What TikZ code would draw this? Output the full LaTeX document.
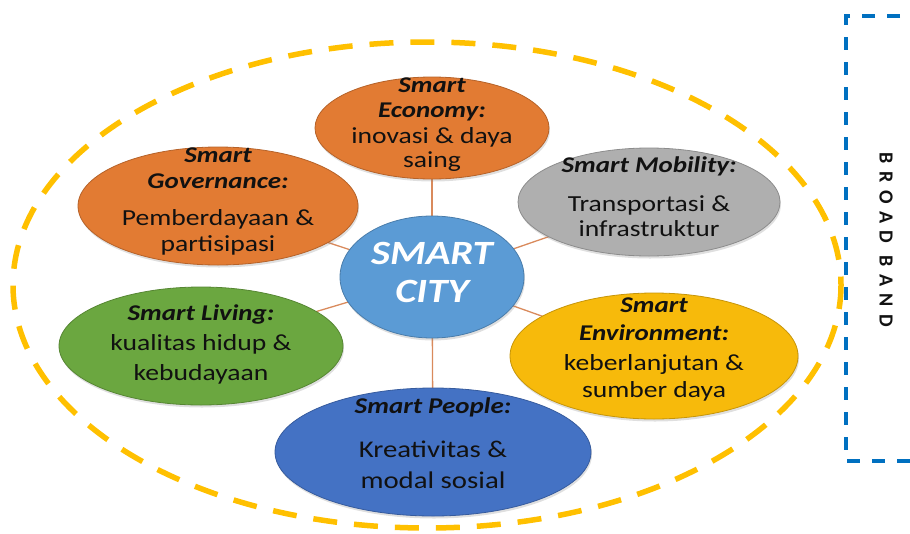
\documentclass[tikz,border=0pt]{standalone}
\usepackage{fontspec}
\setmainfont{Carlito}[FakeStretch=1.2]
\newfontfamily\bbfont{Carlito}[LetterSpace=38]
\usetikzlibrary{shapes.geometric,shadows,backgrounds}
\definecolor{orangeC}{HTML}{E27B33}
\definecolor{greyC}{HTML}{AFAFAF}
\definecolor{cityC}{HTML}{5B9BD5}
\definecolor{greenC}{HTML}{6BA740}
\definecolor{yellowC}{HTML}{F7BA0B}
\definecolor{peopleC}{HTML}{4472C4}
\definecolor{dashY}{HTML}{FFC000}
\definecolor{dashB}{HTML}{0070C0}
\definecolor{linkC}{HTML}{D98A5C}
\definecolor{txtC}{HTML}{111111}
\tikzset{
  bubble/.style={ellipse, inner sep=0pt, draw=#1!80!black, line width=0.8pt, fill=#1,
    drop shadow={shadow xshift=1pt, shadow yshift=-2.5pt, opacity=0.25}},
  ttl/.style={anchor=base, inner sep=0pt, text=txtC, font=\fontsize{22.5}{25}\selectfont\bfseries\itshape},
  bdy/.style={anchor=base, inner sep=0pt, text=txtC, font=\fontsize{23}{25}\selectfont},
  link/.style={draw=linkC, line width=1.3pt}
}
\begin{document}
\begin{tikzpicture}[x=1pt,y=-1pt]
\useasboundingbox (0,0) rectangle (910,533);
% big dashed ellipse
\draw[dashY, line width=5.5pt, dash pattern=on 24pt off 17pt] (427,285) ellipse [x radius=414, y radius=243];
% broadband frame
\draw[dashB, line width=3.8pt, dash pattern=on 13pt off 12pt] (925,16) -- (846,16) -- (846,461) -- (925,461);
\node[rotate=-90, inner sep=0pt, font=\bbfont\fontsize{20}{22}\selectfont\bfseries, text=txtC] (bb) at (886,240) {BROAD BAND};
% bubbles
\node[bubble=orangeC, minimum width=234pt, minimum height=102pt] (econ) at (432,128) {};
\node[bubble=orangeC, minimum width=280pt, minimum height=118pt] (gov) at (218,206) {};
\node[bubble=greyC, minimum width=262pt, minimum height=108pt] (mob) at (649,202) {};
\node[bubble=greenC, minimum width=284pt, minimum height=118pt] (liv) at (201,346) {};
\node[bubble=yellowC, minimum width=288pt, minimum height=126pt] (env) at (654,356) {};
\node[bubble=peopleC, minimum width=316pt, minimum height=128pt] (ppl) at (433,452) {};
\node[bubble=cityC, minimum width=184pt, minimum height=122pt] (city) at (432,277) {};
% connectors
\begin{scope}[on background layer]
\foreach \t in {econ,gov,mob,liv,env,ppl} \draw[link] (city.center) -- (\t.center);
\end{scope}
% texts
\node[anchor=base, inner sep=0pt, text=white, font=\fontsize{34}{37}\selectfont\bfseries\itshape] (city1) at (432,264) {SMART};
\node[anchor=base, inner sep=0pt, text=white, font=\fontsize{34}{37}\selectfont\bfseries\itshape] (city2) at (432,302) {CITY};
\node[ttl] (econ1) at (432,92) {Smart};
\node[ttl] (econ2) at (432,117) {Economy:};
\node[bdy] (econ3) at (432,143) {inovasi \& daya};
\node[bdy] (econ4) at (432,167) {saing};
\node[ttl] (gov1) at (218,162) {Smart};
\node[ttl] (gov2) at (218,188) {Governance:};
\node[bdy] (gov3) at (218,225) {Pemberdayaan \&};
\node[bdy] (gov4) at (218,251) {partisipasi};
\node[ttl] (mob1) at (649,172) {Smart Mobility:};
\node[bdy] (mob2) at (649,211) {Transportasi \&};
\node[bdy] (mob3) at (649,236) {infrastruktur};
\node[ttl] (liv1) at (201,320) {Smart Living:};
\node[bdy] (liv2) at (201,350) {kualitas hidup \&};
\node[bdy] (liv3) at (201,380) {kebudayaan};
\node[ttl] (env1) at (654,312) {Smart};
\node[ttl] (env2) at (654,340) {Environment:};
\node[bdy] (env3) at (654,370) {keberlanjutan \&};
\node[bdy] (env4) at (654,397) {sumber daya};
\node[ttl] (ppl1) at (433,413) {Smart People:};
\node[bdy, font=\fontsize{24}{27}\selectfont] (ppl2) at (433,457) {Kreativitas \&};
\node[bdy, font=\fontsize{24}{27}\selectfont] (ppl3) at (433,488) {modal sosial};
\end{tikzpicture}
\end{document}
